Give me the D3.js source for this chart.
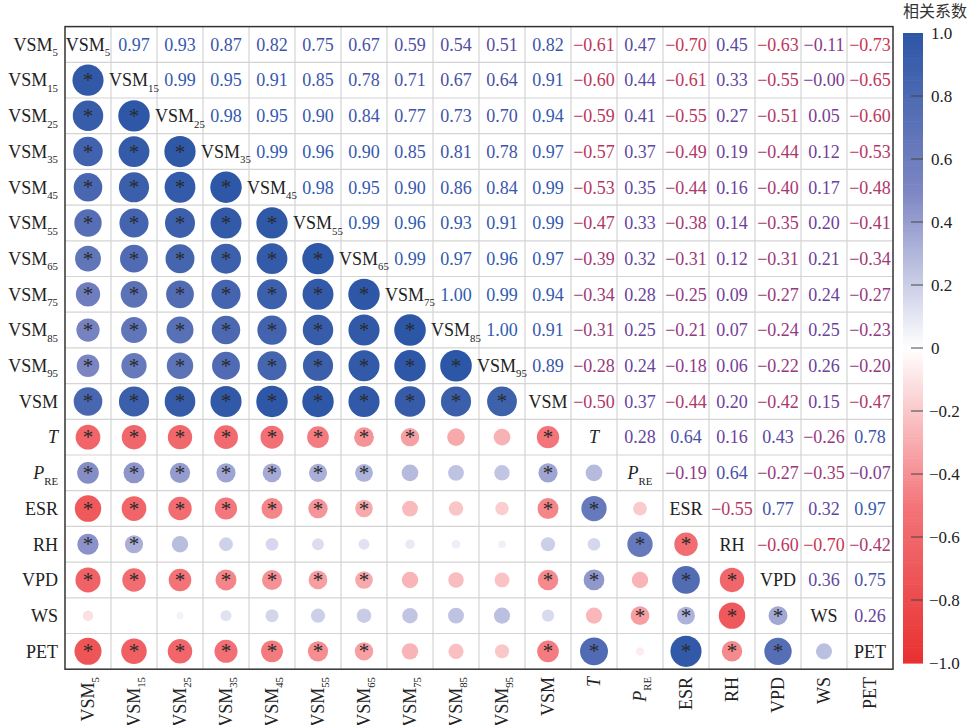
<!DOCTYPE html>
<html><head><meta charset="utf-8">
<script src="https://cdn.jsdelivr.net/npm/d3@7"></script>
<style>body{margin:0;background:#fff}svg{display:block}</style>
</head><body><svg id="c" width="972" height="725"></svg>
<script>
// ---- data ----
const varBase = ["VSM","VSM","VSM","VSM","VSM","VSM","VSM","VSM","VSM","VSM","VSM","T","P","ESR","RH","VPD","WS","PET"];
const varSub  = ["5","15","25","35","45","55","65","75","85","95","","","RE","","","","",""];
const varItalic = [0,0,0,0,0,0,0,0,0,0,0,1,1,0,0,0,0,0];
// upper triangle, row i gives r(i, j) for j>i
const upper = [
 [0.97,0.93,0.87,0.82,0.75,0.67,0.59,0.54,0.51,0.82,-0.61,0.47,-0.70,0.45,-0.63,-0.11,-0.73],
 [0.99,0.95,0.91,0.85,0.78,0.71,0.67,0.64,0.91,-0.60,0.44,-0.61,0.33,-0.55,-0,-0.65],
 [0.98,0.95,0.90,0.84,0.77,0.73,0.70,0.94,-0.59,0.41,-0.55,0.27,-0.51,0.05,-0.60],
 [0.99,0.96,0.90,0.85,0.81,0.78,0.97,-0.57,0.37,-0.49,0.19,-0.44,0.12,-0.53],
 [0.98,0.95,0.90,0.86,0.84,0.99,-0.53,0.35,-0.44,0.16,-0.40,0.17,-0.48],
 [0.99,0.96,0.93,0.91,0.99,-0.47,0.33,-0.38,0.14,-0.35,0.20,-0.41],
 [0.99,0.97,0.96,0.97,-0.39,0.32,-0.31,0.12,-0.31,0.21,-0.34],
 [1.00,0.99,0.94,-0.34,0.28,-0.25,0.09,-0.27,0.24,-0.27],
 [1.00,0.91,-0.31,0.25,-0.21,0.07,-0.24,0.25,-0.23],
 [0.89,-0.28,0.24,-0.18,0.06,-0.22,0.26,-0.20],
 [-0.50,0.37,-0.44,0.20,-0.42,0.15,-0.47],
 [0.28,0.64,0.16,0.43,-0.26,0.78],
 [-0.19,0.64,-0.27,-0.35,-0.07],
 [-0.55,0.77,0.32,0.97],
 [-0.60,-0.70,-0.42],
 [0.36,0.75],
 [0.26],
 []
];
// significance marks for lower triangle, row i gives cols 0..i-1
const sig = [
 [],
 [1],
 [1,1],
 [1,1,1],
 [1,1,1,1],
 [1,1,1,1,1],
 [1,1,1,1,1,1],
 [1,1,1,1,1,1,1],
 [1,1,1,1,1,1,1,1],
 [1,1,1,1,1,1,1,1,1],
 [1,1,1,1,1,1,1,1,1,1],
 [1,1,1,1,1,1,1,1,0,0,1],
 [1,1,1,1,1,1,1,0,0,0,1,0],
 [1,1,1,1,1,1,1,0,0,0,1,1,0],
 [1,1,0,0,0,0,0,0,0,0,0,0,1,1],
 [1,1,1,1,1,1,1,0,0,0,1,1,0,1,1],
 [0,0,0,0,0,0,0,0,0,0,0,0,1,1,1,1],
 [1,1,1,1,1,1,1,0,0,0,1,1,0,1,1,1,0]
];
const legendTicks = [1,0.8,0.6,0.4,0.2,0,-0.2,-0.4,-0.6,-0.8,-1];
const legendTitle = "相关系数";

// ---- build matrix ----
const N = varBase.length;
const M = d3.range(N).map(()=>new Array(N).fill(1));
upper.forEach((row,i)=>row.forEach((v,k)=>{const j=i+1+k; M[i][j]=v; M[j][i]=v;}));

const svg = d3.select("#c");
const serif = "'Liberation Serif','Times New Roman',serif";
const x = d3.scaleBand().domain(d3.range(N)).range([65,893]);
const y = d3.scaleBand().domain(d3.range(N)).range([26.6,669.2]);
const rS = d3.scaleSqrt().domain([0,1]).range([0,15.8]);
const fill = d3.scaleLinear().domain([-1,-0.5,0,0.5,1])
  .range(["#e8302f","#f37479","#ffffff","#7d86c3","#2c56a6"]).interpolate(d3.interpolateRgb);
const tcol = d3.scaleLinear().domain([-1,0,1]).range(["#e8323a","#7b3b95","#2f5bb0"]).interpolate(d3.interpolateRgb);
const fmt = v => ((v<0||Object.is(v,-0))?"\u2212":"") + Math.abs(v).toFixed(2);

// grid
const g = svg.append("g");
d3.range(1,N).forEach(k=>{
  g.append("line").attr("x1",x(k)).attr("x2",x(k)).attr("y1",y.range()[0]).attr("y2",y.range()[1])
   .attr("stroke","#d4d4d4").attr("stroke-width",1.2);
  g.append("line").attr("y1",y(k)).attr("y2",y(k)).attr("x1",x.range()[0]).attr("x2",x.range()[1])
   .attr("stroke","#d4d4d4").attr("stroke-width",1.2);
});

function addLabel(sel, i, size){
  sel.append("tspan").text(varBase[i]).attr("font-style", varItalic[i]?"italic":"normal");
  if(varSub[i]) sel.append("tspan").text(varSub[i]).attr("font-size", size*0.6).attr("dy", size*0.3);
}

// cells
for(let i=0;i<N;i++){
  for(let j=0;j<N;j++){
    const cx = x(j)+x.bandwidth()/2, cy = y(i)+y.bandwidth()/2;
    if(j>i){
      g.append("text").attr("x",cx).attr("y",cy).attr("dy","0.35em").attr("text-anchor","middle")
       .attr("font-family",serif).attr("font-size",18).attr("fill",tcol(M[i][j])).text(fmt(M[i][j]));
    } else if(j===i){
      const t = g.append("text").attr("x",cx).attr("y",cy).attr("dy","0.35em").attr("text-anchor","middle")
       .attr("font-family",serif).attr("font-size",18).attr("fill","#222");
      addLabel(t,i,18);
    } else {
      const v = M[i][j];
      g.append("circle").attr("cx",cx).attr("cy",cy).attr("r",rS(Math.abs(v))).attr("fill",fill(v));
      if(sig[i][j]) g.append("text").attr("x",cx).attr("y",cy+7).attr("text-anchor","middle")
        .attr("font-family",serif).attr("font-size",21).attr("fill","#2a2a2a").text("*");
    }
  }
}
// border
svg.append("rect").attr("x",x.range()[0]).attr("y",y.range()[0]).attr("width",x.range()[1]-x.range()[0])
  .attr("height",y.range()[1]-y.range()[0]).attr("fill","none").attr("stroke","#333").attr("stroke-width",1.5);

// left labels
for(let i=0;i<N;i++){
  const t = svg.append("text").attr("x",58).attr("y",y(i)+y.bandwidth()/2).attr("dy","0.35em")
    .attr("text-anchor","end").attr("font-family",serif).attr("font-size",18).attr("fill","#222");
  addLabel(t,i,18);
}
// bottom labels
for(let j=0;j<N;j++){
  const cx = x(j)+x.bandwidth()/2;
  const t = svg.append("text").attr("transform",`translate(${cx+6},677) rotate(-90)`)
    .attr("text-anchor","end").attr("font-family",serif).attr("font-size",18).attr("fill","#222");
  addLabel(t,j,18);
}

// colour bar
const ly = d3.scaleLinear().domain([-1,1]).range([663,33]);
const lg = svg.append("g");
const steps = d3.range(-1,1,0.01);
steps.forEach(s=>{
  lg.append("rect").attr("x",903).attr("width",20).attr("y",ly(s+0.01)).attr("height",ly(s)-ly(s+0.01)+0.6)
    .attr("fill",fill(s+0.005));
});
legendTicks.forEach(t=>{
  if(Math.abs(t)<1) lg.append("line").attr("x1",911).attr("x2",923).attr("y1",ly(t)).attr("y2",ly(t))
     .attr("stroke","#444").attr("stroke-width",1);
  lg.append("text").attr("x",t<0?929:931).attr("y",ly(t)).attr("dy","0.35em").attr("font-family",serif)
    .attr("font-size",17).attr("fill","#222")
    .text(t===0?"0":(t<0?"\u2212":"")+Math.abs(t).toFixed(1));
});
svg.append("text").attr("x",935).attr("y",17).attr("text-anchor","middle")
  .attr("font-family","'Noto Sans CJK SC',sans-serif").attr("font-size",16).attr("fill","#333").text(legendTitle);
</script></body></html>
